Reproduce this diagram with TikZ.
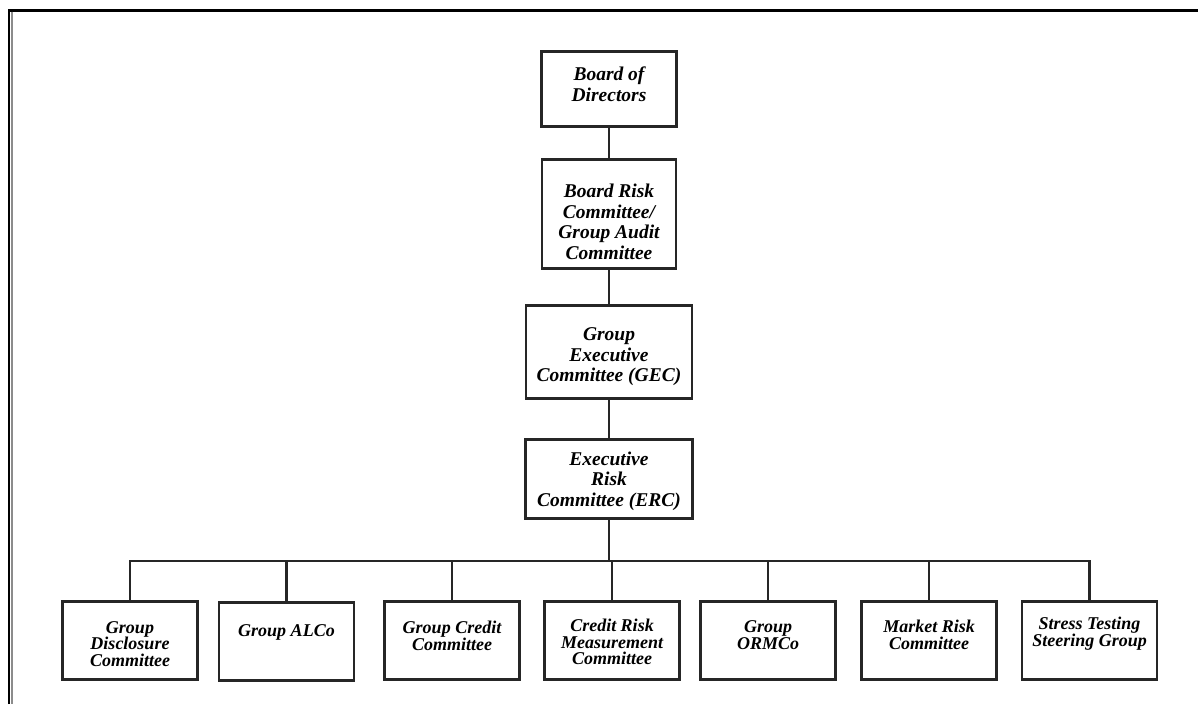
\documentclass[tikz,border=0pt]{standalone}
\usepackage{fontspec}
\setmainfont{Liberation Serif}
\begin{document}
\begin{tikzpicture}[x=1pt,y=-1pt,
  box/.style={draw=black!85, line width=2.6pt, inner sep=0pt, fill=white},
  topbox/.style={box},
  botbox/.style={box, minimum width=135pt, minimum height=78pt},
  txtU/.style={align=center, inner sep=0pt, font=\fontsize{19.5}{20.5}\selectfont\bfseries\itshape},
  txtB/.style={align=center, inner sep=0pt, font=\fontsize{18}{16.7}\selectfont\bfseries\itshape},
  link/.style={draw=black!85, line width=2.6pt}
]
\useasboundingbox (0,0) rectangle (1198,704);
% frame
\draw[line width=2.8pt] (9,704) -- (9,10.2) -- (1198,10.2);
\draw[black!45, line width=1.2pt] (12,11.5) -- (12,704);

% upper chain
\node[topbox, minimum width=135pt, minimum height=75pt] (bod) at (609,89) {};
\node[txtU] (tbod) at (609,84) {Board of\\Directors};
\node[topbox, minimum width=134pt, minimum height=109pt] (brc) at (609,214) {};
\node[txtU] (tbrc) at (609,222) {Board Risk\\Committee/\\Group Audit\\Committee};
\node[topbox, minimum width=166pt, minimum height=93pt] (gec) at (609,352) {};
\node[txtU] (tgec) at (609,357) {Group\\Executive\\Committee (GEC)};
\node[topbox, minimum width=167pt, minimum height=79pt] (erc) at (609,479) {};
\node[txtU] (terc) at (609,481) {Executive\\Risk\\Committee (ERC)};

\draw[link] (bod.south) -- (brc.north);
\draw[link] (brc.south) -- (gec.north);
\draw[link] (gec.south) -- (erc.north);

% bottom row
\node[botbox] (d1) at (130,640.5) {};
\node[botbox] (d2) at (286.5,641.5) {};
\node[botbox] (d3) at (452,640.5) {};
\node[botbox] (d4) at (612,640.5) {};
\node[botbox] (d5) at (768,640.5) {};
\node[botbox] (d6) at (929,640.5) {};
\node[botbox] (d7) at (1089.5,640.5) {};

\node[txtB] (t1) at (130,644) {Group\\Disclosure\\Committee};
\node[txtB] (t2) at (286.5,632) {Group ALCo};
\node[txtB] (t3) at (452,636) {Group Credit\\Committee};
\node[txtB] (t4) at (612,642) {Credit Risk\\Measurement\\Committee};
\node[txtB] (t5) at (768,635) {Group\\ORMCo};
\node[txtB] (t6) at (929,635) {Market Risk\\Committee};
\node[txtB] (t7) at (1089.5,634) {Stress Testing\\Steering Group};

\coordinate (bar) at (609,561);
\draw[link] (erc.south) -- (bar);
\draw[link] (d1.north) |- (bar) -| (d7.north);
\foreach \n in {d2,d3,d4,d5,d6}{
  \draw[link] (\n.north) -- (\n.north |- bar);
}
\end{tikzpicture}
\end{document}
